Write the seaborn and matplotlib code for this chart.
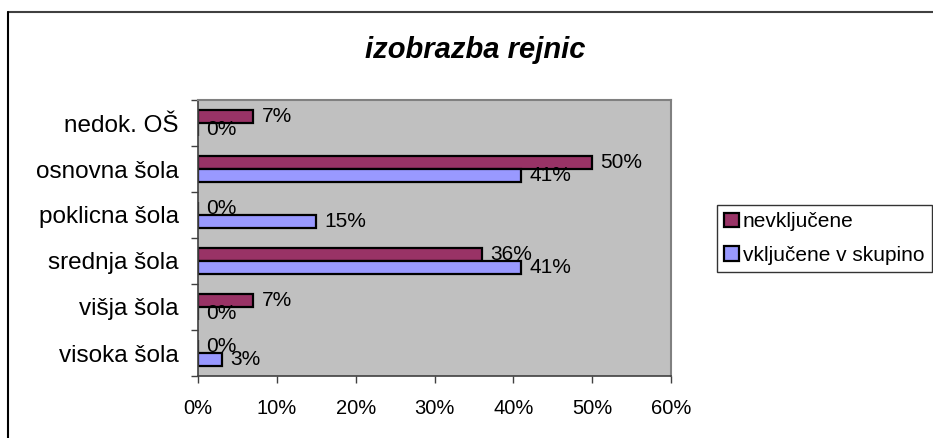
import pandas as pd
import seaborn as sns
import matplotlib.pyplot as plt
from matplotlib.lines import Line2D
from matplotlib.ticker import PercentFormatter, FixedLocator

# podatki
kategorije = ['nedok. OŠ', 'osnovna šola', 'poklicna šola', 'srednja šola', 'višja šola', 'visoka šola']
nevkljucene = [7, 50, 0, 36, 7, 0]
vkljucene = [0, 41, 15, 41, 0, 3]
skupine = ['nevključene', 'vključene v skupino']
barve = ['#993366', '#9999FF']

df = pd.DataFrame({
    'kategorija': kategorije * 2,
    'delez': nevkljucene + vkljucene,
    'skupina': [skupine[0]] * len(kategorije) + [skupine[1]] * len(kategorije),
})

sns.set_style('white')
plt.rcParams['font.family'] = ['Liberation Sans', 'DejaVu Sans']
plt.rcParams['text.color'] = 'black'
plt.rcParams['xtick.color'] = 'black'
plt.rcParams['ytick.color'] = 'black'

fig = plt.figure(figsize=(9.33, 4.38), dpi=100)
ax = fig.add_axes([198 / 933, 1 - 376 / 438, (671 - 198) / 933, (376 - 100) / 438])

sns.barplot(data=df, y='kategorija', x='delez', hue='skupina', orient='h',
            palette=barve, edgecolor='black', linewidth=1.6, width=0.55,
            saturation=1, ax=ax, legend=False)

ax.set_facecolor('#C0C0C0')
ax.set_xlim(0, 60)
ax.set_xticks(range(0, 61, 10))
ax.xaxis.set_major_formatter(PercentFormatter(100, decimals=0))
ax.set_xlabel('')
ax.set_ylabel('')

# oznake vrednosti
for cont in ax.containers:
    ax.bar_label(cont, labels=[f'{int(v)}%' for v in cont.datavalues],
                 padding=6, fontsize=15, color='black')

# kljukice
ax.yaxis.set_minor_locator(FixedLocator([i - 0.5 for i in range(len(kategorije) + 1)]))
ax.tick_params(axis='y', which='major', length=0, pad=14, labelsize=17.5, labelcolor='black')
ax.tick_params(axis='y', which='minor', left=True, length=5, width=1, color='#404040')
ax.tick_params(axis='x', which='major', bottom=True, length=5, width=1, color='#404040',
               pad=11.5, labelsize=14.5, labelcolor='black')

for s in ['left', 'bottom']:
    ax.spines[s].set_color('#404040')
    ax.spines[s].set_linewidth(1.2)
for s in ['top', 'right']:
    ax.spines[s].set_color('#808080')
    ax.spines[s].set_linewidth(1.5)

# naslov
fig.text(475 / 933, 1 - 50 / 438, 'izobrazba rejnic', ha='center', va='center',
         fontsize=21, fontweight='bold', fontstyle='italic', color='black')

# legenda
handles = [plt.Rectangle((0, 0), 1, 1, facecolor=b, edgecolor='black', linewidth=1.6) for b in barve]
leg = fig.legend(handles, skupine, loc='upper left', bbox_to_anchor=(717 / 933, 1 - 205 / 438),
                 fontsize=15, frameon=True, fancybox=False, edgecolor='black',
                 handlelength=0.7, handleheight=0.7, handletextpad=0.2,
                 borderpad=0.35, labelspacing=0.7, borderaxespad=0)
for t in leg.get_texts():
    t.set_color('black')

# okvir slike
fig.add_artist(Line2D([8 / 933, 1], [1 - 12 / 438, 1 - 12 / 438], color='#404040', linewidth=1.5))
fig.add_artist(Line2D([8 / 933, 8 / 933], [0, 1 - 12 / 438], color='black', linewidth=1.5))

fig.savefig('out.png', dpi=100)
